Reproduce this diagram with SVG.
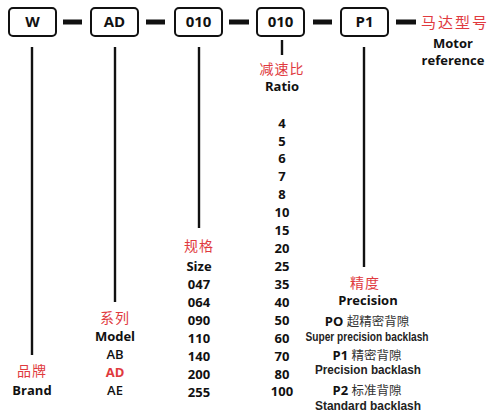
<svg xmlns="http://www.w3.org/2000/svg" width="492" height="412" viewBox="0 0 492 412">
<style>
.box{fill:#fff;stroke:#111;stroke-width:2}
.dash{stroke:#111;stroke-width:5}
.ln{stroke:#111;stroke-width:2.4}
.bt{font-family:"Open Sans","Liberation Sans",sans-serif;font-weight:bold;font-size:15px;fill:#111;text-anchor:middle}
.lb{font-family:"Open Sans","Liberation Sans",sans-serif;font-weight:bold;font-size:13px;fill:#111;text-anchor:middle}
.cn{font-family:"Noto Sans CJK SC",sans-serif;font-size:14px;fill:#e03a3e;text-anchor:middle;letter-spacing:1px}
.red{fill:#e03a3e}
.lt{font-weight:600}
.cg{font-family:"Noto Sans CJK SC",sans-serif;font-weight:normal;font-size:12.5px;fill:#333}
.nw{font-family:"Liberation Sans",sans-serif;font-weight:bold;font-size:12px;fill:#222;text-anchor:middle}
</style>
<g id="node-W"><rect class="box" x="9" y="8" width="47" height="28" rx="4"/><text class="bt" x="32.5" y="27">W</text></g>
<g id="node-AD"><rect class="box" x="91" y="8" width="47" height="28" rx="4"/><text class="bt" x="114.5" y="27">AD</text></g>
<g id="node-size"><rect class="box" x="175" y="8" width="47" height="28" rx="4"/><text class="bt" x="198.5" y="27">010</text></g>
<g id="node-ratio"><rect class="box" x="257" y="8" width="47" height="28" rx="4"/><text class="bt" x="280.5" y="27">010</text></g>
<g id="node-P1"><rect class="box" x="341" y="8" width="47" height="28" rx="4"/><text class="bt" x="364.5" y="27">P1</text></g>
<g id="connectors">
<line class="dash" x1="63" y1="22" x2="82" y2="22"/>
<line class="dash" x1="146" y1="22" x2="165" y2="22"/>
<line class="dash" x1="229" y1="22" x2="249" y2="22"/>
<line class="dash" x1="313" y1="22" x2="332" y2="22"/>
<line class="dash" x1="396" y1="22" x2="416" y2="22"/>
<line class="ln" x1="32" y1="47" x2="32" y2="355"/>
<line class="ln" x1="115" y1="47" x2="115" y2="302"/>
<line class="ln" x1="199" y1="47" x2="199" y2="228"/>
<line class="ln" x1="282" y1="40" x2="282" y2="55"/>
<line class="ln" x1="364" y1="47" x2="364" y2="267"/>
</g>
<g id="motor">
<text class="cn" x="455" y="28" style="font-size:15px;letter-spacing:2px">马达型号</text>
<text class="lb" x="453" y="48">Motor</text>
<text class="lb" x="453" y="65">reference</text>
</g>
<g id="brand">
<text class="cn" x="32" y="376">品牌</text>
<text class="lb" x="32" y="395">Brand</text>
</g>
<g id="model">
<text class="cn" x="115" y="323">系列</text>
<text class="lb" x="115" y="341">Model</text>
<text class="lb lt" x="115" y="359">AB</text>
<text class="lb red" x="115" y="377">AD</text>
<text class="lb lt" x="115" y="395">AE</text>
</g>
<g id="size">
<text class="cn" x="199" y="251">规格</text>
<text class="lb" x="199" y="271">Size</text>
<text class="lb" x="199" y="289">047</text>
<text class="lb" x="199" y="307">064</text>
<text class="lb" x="199" y="325">090</text>
<text class="lb" x="199" y="343">110</text>
<text class="lb" x="199" y="361">140</text>
<text class="lb" x="199" y="379">200</text>
<text class="lb" x="199" y="397">255</text>
</g>
<g id="ratio">
<text class="cn" x="282" y="74">减速比</text>
<text class="lb" x="282" y="91">Ratio</text>
<text class="lb" x="282" y="128">4</text>
<text class="lb" x="282" y="146">5</text>
<text class="lb" x="282" y="163">6</text>
<text class="lb" x="282" y="181">7</text>
<text class="lb" x="282" y="199">8</text>
<text class="lb" x="282" y="217">10</text>
<text class="lb" x="282" y="235">15</text>
<text class="lb" x="282" y="253">20</text>
<text class="lb" x="282" y="271">25</text>
<text class="lb" x="282" y="289">35</text>
<text class="lb" x="282" y="307">40</text>
<text class="lb" x="282" y="325">50</text>
<text class="lb" x="282" y="343">60</text>
<text class="lb" x="282" y="361">70</text>
<text class="lb" x="282" y="379">80</text>
<text class="lb" x="282" y="396">100</text>
</g>
<g id="precision">
<text class="cn" x="365" y="288">精度</text>
<text class="lb" x="368" y="305">Precision</text>
<text class="lb" x="367" y="326">PO <tspan class="cg">超精密背隙</tspan></text>
<text class="nw" x="367" y="341" textLength="123" lengthAdjust="spacingAndGlyphs">Super precision backlash</text>
<text class="lb" x="367" y="360">P1 <tspan class="cg">精密背隙</tspan></text>
<text class="nw" x="368" y="374" textLength="106" lengthAdjust="spacingAndGlyphs">Precision backlash</text>
<text class="lb" x="367" y="395">P2 <tspan class="cg">标准背隙</tspan></text>
<text class="nw" x="368" y="410" textLength="106" lengthAdjust="spacingAndGlyphs">Standard backlash</text>
</g>
</svg>
